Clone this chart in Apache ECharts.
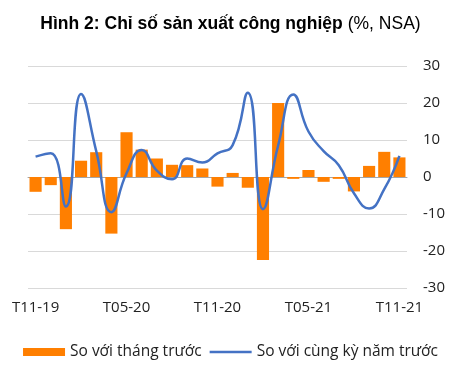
<!DOCTYPE html>
<html><head><meta charset="utf-8">
<script src="https://cdn.jsdelivr.net/npm/echarts@6/dist/echarts.min.js"></script>
<style>html,body{margin:0;padding:0;background:#fff}#c{width:461px;height:377px}</style>
</head><body><div id="c"></div>
<script>
const months = ["T11-19","T12-19","T01-20","T02-20","T03-20","T04-20","T05-20","T06-20","T07-20","T08-20","T09-20","T10-20","T11-20","T12-20","T01-21","T02-21","T03-21","T04-21","T05-21","T06-21","T07-21","T08-21","T09-21","T10-21","T11-21"];
const momValues = [-4.0,-2.2,-14.1,4.4,6.7,-15.3,12.1,7.4,5.0,3.3,3.2,2.3,-2.6,1.1,-2.9,-22.4,20.0,-0.5,1.9,-1.3,-0.5,-3.9,3.0,6.8,5.3];
const yoyValues = [5.5,6.4,-8.0,22.4,7.0,-9.5,1.0,7.3,1.7,-0.6,5.0,3.9,6.4,8.6,22.8,-8.7,8.5,22.3,12.3,7.0,3.2,-4.4,-8.5,-3.3,5.7];
const yTicks = {min:-30,max:30,interval:10};
const seriesNames = ["So với tháng trước","So với cùng kỳ năm trước"];

const F = 'Open Sans';
const chart = echarts.init(document.getElementById('c'));
chart.setOption({
  animation:false,
  title:{text:'{b|Hình 2: Chỉ số sản xuất công nghiệp} {n|(%, NSA)}',left:'center',top:10,
    textStyle:{rich:{b:{fontFamily:'Liberation Sans',fontWeight:'bold',fontSize:17.5,color:'#000'},n:{fontFamily:'Liberation Sans',fontWeight:'normal',fontSize:17.5,color:'#000'}}}},
  grid:{left:28,right:54,top:66,bottom:89},
  legend:{bottom:12,left:'center',itemGap:8,itemWidth:42,itemHeight:8,
    textStyle:{fontFamily:F,fontSize:15.5,color:'#222'},
    data:[{name:seriesNames[0],icon:'rect'},{name:seriesNames[1],icon:'path://M0,0L42,0L42,2.5L0,2.5Z'}]},
  xAxis:{type:'category',data:months,boundaryGap:true,
    axisLine:{lineStyle:{color:'#a6a6a6',width:1}},
    axisTick:{interval:5,length:5,lineStyle:{color:'#a6a6a6'}},
    axisLabel:{interval:5,margin:12,fontFamily:F,fontSize:15,color:'#222'}},
  yAxis:{type:'value',position:'right',min:yTicks.min,max:yTicks.max,interval:yTicks.interval,
    axisLine:{show:false},axisTick:{show:false},
    splitLine:{lineStyle:{color:'#d9d9d9',width:1}},
    axisLabel:{margin:16,fontFamily:F,fontSize:15,color:'#222'}},
  series:[
    {name:seriesNames[0],type:'bar',data:momValues,barCategoryGap:'20%',itemStyle:{color:'#FF7F00'}},
    {name:seriesNames[1],type:'line',data:yoyValues,smooth:0.5,showSymbol:false,symbol:'none',
      lineStyle:{color:'#4472C4',width:2.5},itemStyle:{color:'#4472C4'}}
  ]
});
</script></body></html>
